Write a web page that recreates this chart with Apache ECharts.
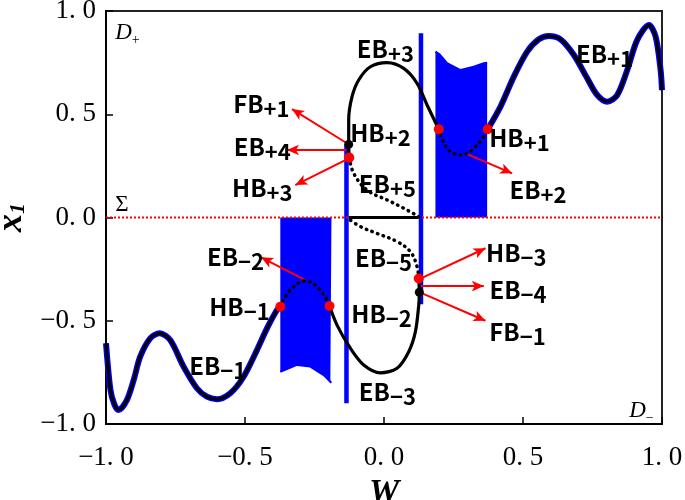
<!DOCTYPE html>
<html>
<head>
<meta charset="utf-8">
<script src="https://cdn.jsdelivr.net/npm/echarts@6/dist/echarts.min.js"></script>
<style>
  html, body { margin: 0; padding: 0; background: #fff; }
  #chart { width: 685px; height: 500px; }
</style>
</head>
<body>
<div id="chart"></div>
<script>
// equilibrium branches [W, x1]
const eb1Neg = [[-1.0,-0.609],[-0.984,-0.835],[-0.970,-0.905],[-0.955,-0.932],[-0.925,-0.884],[-0.900,-0.785],[-0.877,-0.674],[-0.841,-0.585],[-0.807,-0.561],[-0.769,-0.593],[-0.721,-0.722],[-0.673,-0.827],[-0.637,-0.868],[-0.601,-0.880],[-0.553,-0.851],[-0.505,-0.771],[-0.457,-0.642],[-0.421,-0.537],[-0.385,-0.448],[-0.373,-0.432]];
const eb1Pos = [[0.373,0.427],[0.419,0.537],[0.467,0.682],[0.515,0.803],[0.557,0.863],[0.593,0.879],[0.635,0.863],[0.683,0.787],[0.731,0.674],[0.767,0.593],[0.803,0.561],[0.839,0.593],[0.875,0.714],[0.911,0.860],[0.953,0.932],[0.977,0.876],[0.995,0.714],[1.0,0.617]];
const eb2Neg = [[-0.373,-0.432],[-0.337,-0.351],[-0.283,-0.307],[-0.229,-0.351],[-0.196,-0.429]];
const eb2Pos = [[0.197,0.427],[0.227,0.335],[0.275,0.303],[0.335,0.351],[0.373,0.427]];
const eb3Neg = [[-0.196,-0.429],[-0.169,-0.521],[-0.121,-0.633],[-0.073,-0.714],[-0.013,-0.752],[0.047,-0.730],[0.089,-0.650],[0.113,-0.553],[0.125,-0.424],[0.127,-0.362],[0.125,-0.295]];
const eb3Pos = [[-0.125,0.290],[-0.127,0.354],[-0.127,0.472],[-0.115,0.585],[-0.091,0.666],[-0.049,0.730],[0.011,0.750],[0.071,0.722],[0.119,0.650],[0.155,0.545],[0.197,0.427]];
const eb5Neg = [[0.125,-0.295],[0.119,-0.238],[0.095,-0.166],[0.047,-0.117],[-0.025,-0.077],[-0.085,-0.044],[-0.127,-0.007]];
const eb5Pos = [[-0.125,0.290],[-0.109,0.214],[-0.061,0.133],[0.011,0.085],[0.071,0.045],[0.125,0.004]];
const sliding = [[-0.127,0],[0.125,0]];
const sigma = [[-1,0],[1,0]];

// oscillation envelopes and blue verticals
const cycleTop = [[0.185,0.803],[0.200,0.790],[0.227,0.747],[0.275,0.714],[0.323,0.730],[0.359,0.747],[0.371,0.750]];
const cycleBottom = [[-0.373,-0.747],[-0.313,-0.714],[-0.265,-0.722],[-0.217,-0.763],[-0.193,-0.795],[-0.189,-0.800]];
const vertRight = [[0.133,0.892],[0.133,-0.420]];
const vertLeft = [[-0.135,-0.900],[-0.135,0.350]];

const hbPoints = [[-0.373,-0.432],[-0.196,-0.429],[0.197,0.427],[0.373,0.427],[-0.125,0.290],[0.125,-0.295]];
const fbPoints = [[-0.127,0.354],[0.127,-0.362]];

// annotation arrows: from -> to
const arrows = [
  [[-0.129,0.356],[-0.331,0.525]],
  [[-0.135,0.327],[-0.349,0.327]],
  [[-0.139,0.278],[-0.319,0.157]],
  [[0.299,0.307],[0.461,0.214]],
  [[0.127,-0.298],[0.365,-0.149]],
  [[0.131,-0.332],[0.359,-0.332]],
  [[0.131,-0.364],[0.365,-0.500]],
  [[-0.283,-0.303],[-0.442,-0.193]]
];

// labels: W, x1, text, subscript
const labels = [
  [0.005,0.816,'EB','+3'],
  [-0.441,0.550,'FB','+1'],
  [-0.438,0.341,'EB','+4'],
  [-0.438,0.145,'HB','+3'],
  [-0.013,0.409,'HB','+2'],
  [0.012,0.162,'EB','+5'],
  [0.487,0.385,'HB','+1'],
  [0.554,0.133,'EB','+2'],
  [0.793,0.794,'EB','+1'],
  [-0.534,-0.191,'EB','−2'],
  [-0.520,-0.433,'HB','−1'],
  [-0.598,-0.719,'EB','−1'],
  [-0.002,-0.194,'EB','−5'],
  [-0.009,-0.467,'HB','−2'],
  [0.012,-0.845,'EB','−3'],
  [0.476,-0.172,'HB','−3'],
  [0.482,-0.351,'EB','−4'],
  [0.480,-0.554,'FB','−1']
];
const regionLabels = [
  [-0.923,0.893,'D','+'],
  [0.926,-0.937,'D','−']
];
const sigmaLabel = [[-0.943,0.061,'Σ']];

const serif = "'Liberation Serif', 'DejaVu Serif', serif";
const sans = "'Noto Sans CJK SC', 'Liberation Sans', sans-serif";
const BLUE = '#0000ff', RED = '#ff0000';

const chart = echarts.init(document.getElementById('chart'));

function fmt(v) {
  return (v < 0 ? '−' : '') + Math.abs(v).toFixed(1).replace('.', '. ');
}

function line(data, color, width, z, opts) {
  return Object.assign({
    type: 'line', data: data, symbol: 'none', silent: true, z: z,
    lineStyle: { color: color, width: width },
    animation: false
  }, opts || {});
}

const dotted = { type: [0.5, 5.5], cap: 'round' };
const noBorder = { textBorderWidth: 0, textBorderColor: 'transparent', textShadowBlur: 0 };

function textSeries(data, label, z) {
  return {
    type: 'scatter', data: data, symbolSize: 0, z: z, silent: true, animation: false,
    itemStyle: { color: '#000', opacity: 1 },
    label: Object.assign({ show: true, position: 'inside', color: '#000', opacity: 1 }, noBorder, label)
  };
}

const series = [
  line(cycleTop, BLUE, 2, 1, { areaStyle: { color: BLUE, opacity: 1, origin: 0 } }),
  line(cycleBottom, BLUE, 2, 1, { areaStyle: { color: BLUE, opacity: 1, origin: 0 } }),
  line(vertRight, BLUE, 4.5, 2),
  line(vertLeft, BLUE, 4.5, 2),
  line(sigma, RED, 2, 3, { lineStyle: { color: RED, width: 2, type: [2, 2] } }),
  line(eb1Neg, BLUE, 6, 4, { smooth: 0.3 }),
  line(eb1Pos, BLUE, 6, 4, { smooth: 0.3 }),
  line(eb1Neg, '#000', 3.2, 5, { smooth: 0.3 }),
  line(eb1Pos, '#000', 3.2, 5, { smooth: 0.3 }),
  line(eb3Neg, '#000', 3.2, 5, { smooth: 0.3 }),
  line(eb3Pos, '#000', 3.2, 5, { smooth: 0.3 }),
  line(sliding, '#000', 3, 5),
  line(eb2Neg, '#000', 3.5, 5, { smooth: 0.4, lineStyle: Object.assign({ color: '#000', width: 3.5 }, dotted) }),
  line(eb2Pos, '#000', 3.5, 5, { smooth: 0.4, lineStyle: Object.assign({ color: '#000', width: 3.5 }, dotted) }),
  line(eb5Neg, '#000', 3.5, 5, { smooth: 0.4, lineStyle: Object.assign({ color: '#000', width: 3.5 }, dotted) }),
  line(eb5Pos, '#000', 3.5, 5, { smooth: 0.4, lineStyle: Object.assign({ color: '#000', width: 3.5 }, dotted) }),
  {
    type: 'line', data: [], silent: true, z: 6, animation: false,
    markLine: {
      silent: true, animation: false,
      symbol: ['none', 'arrow'], symbolSize: [8, 12],
      label: { show: false },
      lineStyle: { color: RED, width: 2, type: 'solid' },
      emphasis: { disabled: true },
      data: arrows.map(a => [{ coord: a[0] }, { coord: a[1] }])
    }
  },
  {
    type: 'scatter', data: hbPoints, symbolSize: 10, z: 7, silent: true, animation: false,
    itemStyle: { color: RED, opacity: 1 }
  },
  {
    type: 'scatter', data: fbPoints, symbolSize: 9, z: 7, silent: true, animation: false,
    itemStyle: { color: '#000', opacity: 1 }
  },
  textSeries(labels, {
    formatter: p => '{b|' + p.data[2] + '}{s|' + p.data[3] + '}',
    rich: {
      b: Object.assign({ fontFamily: sans, fontSize: 24, fontWeight: 'bold', color: '#000', lineHeight: 24, verticalAlign: 'top' }, noBorder),
      s: Object.assign({ fontFamily: sans, fontSize: 22, fontWeight: 'bold', color: '#000', lineHeight: 22, padding: [6, 0, 0, 0], verticalAlign: 'top' }, noBorder)
    }
  }, 8),
  textSeries(regionLabels, {
    formatter: p => '{b|' + p.data[2] + '}{s|' + p.data[3] + '}',
    rich: {
      b: Object.assign({ fontFamily: serif, fontSize: 23, fontStyle: 'italic', color: '#000', lineHeight: 23, verticalAlign: 'top' }, noBorder),
      s: Object.assign({ fontFamily: serif, fontSize: 14, color: '#000', lineHeight: 14, padding: [12, 0, 0, 0], verticalAlign: 'top' }, noBorder)
    }
  }, 8),
  textSeries(sigmaLabel, {
    formatter: p => p.data[2],
    fontFamily: serif, fontSize: 23
  }, 8)
];

const axisCommon = {
  type: 'value', min: -1, max: 1, interval: 0.5,
  axisLine: { show: true, onZero: false, lineStyle: { color: '#000', width: 2 } },
  axisTick: { show: true, inside: true, length: 7, lineStyle: { color: '#000', width: 1.5 } },
  axisLabel: { formatter: fmt, fontFamily: serif, fontSize: 27, color: '#000' },
  splitLine: { show: false },
  nameLocation: 'middle'
};

chart.setOption({
  animation: false,
  grid: {
    left: 106, right: 23, top: 11, bottom: 76, outerBoundsMode: 'none',
    show: true, borderColor: '#222', borderWidth: 2, backgroundColor: 'transparent'
  },
  xAxis: Object.assign({}, axisCommon, {
    axisLabel: Object.assign({}, axisCommon.axisLabel, { margin: 20 }),
    name: 'W', nameGap: 50,
    nameTextStyle: { fontFamily: serif, fontSize: 34, fontStyle: 'italic', fontWeight: 'bold', color: '#000' }
  }),
  yAxis: Object.assign({}, axisCommon, {
    axisLabel: Object.assign({}, axisCommon.axisLabel, { margin: 10 }),
    name: '{x|x}{s|1}', nameGap: 72, nameRotate: 90,
    nameTextStyle: {
      rich: {
        x: { fontFamily: serif, fontSize: 36, fontStyle: 'italic', fontWeight: 'bold', color: '#000', lineHeight: 36, verticalAlign: 'top' },
        s: { fontFamily: serif, fontSize: 22, fontStyle: 'italic', fontWeight: 'bold', color: '#000', lineHeight: 22, padding: [14, 0, 0, 0], verticalAlign: 'top' }
      }
    }
  }),
  series: series
});
</script>
</body>
</html>
